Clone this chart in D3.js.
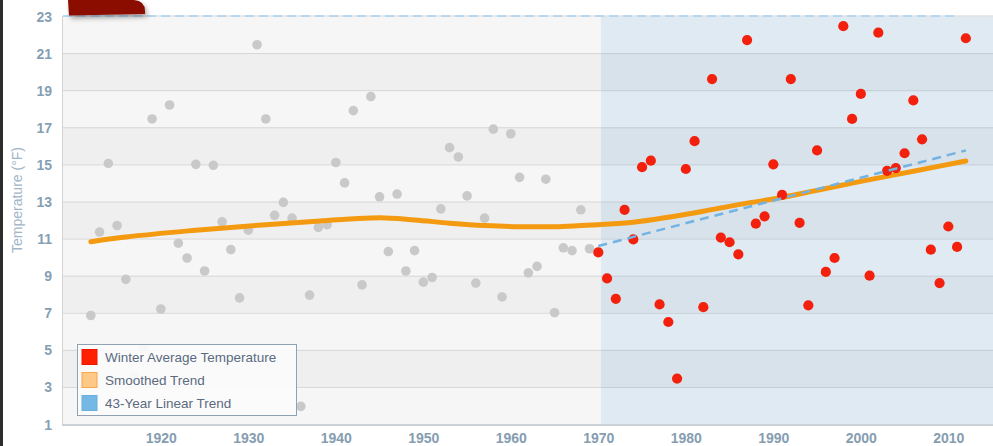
<!DOCTYPE html>
<html>
<head>
<meta charset="utf-8">
<script src="https://cdn.jsdelivr.net/npm/d3@7"></script>
<style>
	body { margin:0; background:#fff; }
	svg { display:block; font-family:"Liberation Sans", Arial, sans-serif; }
</style>
</head>
<body>
<svg id="chart" width="993" height="446"></svg>
<script>

// winter averages, grey = before the 43 year window, red = inside it
let earlyYears = d3.range(1912, 1970)
let earlyTemps = [6.85, 11.35, 15.05, 11.7, 8.8, 3.6, 5.05, 17.45, 7.2, 18.2, 10.75, 9.95,
	15.0, 9.25, 14.95, 11.9, 10.4, 7.8, 11.45, 21.45, 17.45, 12.25, 12.95, 12.1,
	1.95, 7.95, 11.6, 11.75, 15.1, 14.0, 17.9, 8.5, 18.65, 13.25, 10.3, 13.4,
	9.25, 10.35, 8.65, 8.9, 12.6, 15.9, 15.4, 13.3, 8.6, 12.1, 16.9, 7.85,
	16.65, 14.3, 9.15, 9.5, 14.2, 7.0, 10.5, 10.35, 12.55, 10.45]
let recentYears = d3.range(1970, 2013)
let recentTemps = [10.25, 8.85, 7.75, 12.55, 10.95, 14.85, 15.2, 7.45, 6.5, 3.45, 14.75, 16.25,
	7.3, 19.6, 11.05, 10.8, 10.15, 21.7, 11.8, 12.2, 15.0, 13.35, 19.6, 11.85,
	7.4, 15.75, 9.2, 9.95, 22.45, 17.45, 18.8, 9.0, 22.1, 14.65, 14.8, 15.6,
	18.45, 16.35, 10.4, 8.6, 11.65, 10.55, 21.8]
let smoothYears = [1912, 1916, 1924, 1932, 1939, 1945, 1949, 1953, 1957, 1961, 1965, 1968,
	1970, 1974, 1978, 1982, 1986, 1990, 1995, 2000, 2006, 2012]
let smoothTemps = [10.83, 11.08, 11.45, 11.75, 11.97, 12.12, 12.0, 11.83, 11.7, 11.64, 11.64, 11.7,
	11.75, 11.88, 12.15, 12.47, 12.83, 13.13, 13.6, 14.08, 14.63, 15.18]
let linearYears = [1970, 2012]
let linearTemps = [10.6, 15.75]
let yTicks = [1, 3, 5, 7, 9, 11, 13, 15, 17, 19, 21, 23]
let xTicks = [1920, 1930, 1940, 1950, 1960, 1970, 1980, 1990, 2000, 2010]
let legendNames = ["Winter Average Temperature", "Smoothed Trend", "43-Year Linear Trend"]

const plotLeft = 63, plotRight = 993, plotTop = 16, plotBottom = 424
const windowStart = 1970.3

let svg = d3.select("#chart")

let x = d3.scaleLinear().domain([1908.82, 1908.82 + (plotRight - plotLeft) / 8.75]).range([plotLeft, plotRight])
let y = d3.scaleLinear().domain([1, 23]).range([plotBottom, plotTop])

// page border on the far left
svg.append("rect").attr("x", 0).attr("y", 0).attr("width", 3).attr("height", 446).attr("fill", "#2d2d2d")

// alternate bands, grey part then blue part
let bands = d3.range(1, 23, 2)
function drawBands(x0, x1, light, dark){
	svg.append("g").selectAll("rect").data(bands).join("rect")
		.attr("x", x0)
		.attr("y", d => y(d + 2))
		.attr("width", x1 - x0)
		.attr("height", d => y(d) - y(d + 2))
		.attr("fill", (d, i) => i % 2 == 0 ? light : dark)
}
drawBands(plotLeft, x(windowStart), "#f6f6f6", "#efefef")
drawBands(x(windowStart), plotRight, "#dfeaf2", "#d7e2eb")

// grid lines
svg.append("g").selectAll("line").data(yTicks.slice(1, -1)).join("line")
	.attr("x1", plotLeft).attr("x2", x(windowStart))
	.attr("y1", d => y(d) + 0.5).attr("y2", d => y(d) + 0.5)
	.attr("stroke", "#d6d6d6")
svg.append("g").selectAll("line").data(yTicks.slice(1, -1)).join("line")
	.attr("x1", x(windowStart)).attr("x2", plotRight)
	.attr("y1", d => y(d) + 0.5).attr("y2", d => y(d) + 0.5)
	.attr("stroke", "#c3ccd4")
svg.append("line")
	.attr("x1", plotLeft - 0.5).attr("x2", plotLeft - 0.5)
	.attr("y1", plotTop).attr("y2", plotBottom)
	.attr("stroke", "#d3d3d3")
svg.append("line")
	.attr("x1", plotLeft - 1).attr("x2", plotRight)
	.attr("y1", plotBottom + 1).attr("y2", plotBottom + 1)
	.attr("stroke", "#ccd1d6").attr("stroke-width", 2)

// top border, grey with a pale dashed line over it
svg.append("line").attr("x1", plotLeft).attr("x2", plotRight)
	.attr("y1", plotTop).attr("y2", plotTop).attr("stroke", "#e2e2e2").attr("stroke-width", 1.5)
svg.append("line").attr("x1", plotLeft).attr("x2", 958)
	.attr("y1", plotTop).attr("y2", plotTop).attr("stroke", "#a9d1ef")
	.attr("stroke-width", 1.5).attr("stroke-dasharray", "9,5")

// header tab poking in at the top
let defs = svg.append("defs")
let shadow = defs.append("filter").attr("id", "tabShadow").attr("x", "-20%").attr("y", "-50%").attr("width", "150%").attr("height", "250%")
shadow.append("feDropShadow").attr("dx", 2).attr("dy", 3).attr("stdDeviation", 2.5).attr("flood-color", "#000").attr("flood-opacity", 0.35)
svg.append("path")
	.attr("d", "M68,0 L134,0 Q145,1 145,11 L145,14 L69,15.5 Z")
	.attr("fill", "#8a0c00")
	.attr("filter", "url(#tabShadow)")

// axes
let yAxis = d3.axisLeft(y).tickValues(yTicks).tickSize(0).tickPadding(0)
let yG = svg.append("g").attr("transform", "translate(" + (plotLeft - 11) + ",0)").call(yAxis)
yG.select(".domain").remove()
yG.selectAll("text")
	.attr("dy", "0.36em")
	.style("font-size", "14px").style("font-weight", "bold").style("fill", "#869fb4")

let xAxis = d3.axisBottom(x).tickValues(xTicks).tickFormat(d3.format("d")).tickSize(0).tickPadding(0)
let xG = svg.append("g").attr("transform", "translate(0," + (plotBottom + 9) + ")").call(xAxis)
xG.select(".domain").remove()
xG.selectAll("text")
	.attr("dy", "0.71em")
	.style("font-size", "14px").style("font-weight", "bold").style("fill", "#869db1")

svg.append("text")
	.attr("transform", "translate(22,200) rotate(-90)")
	.attr("text-anchor", "middle")
	.style("font-size", "14px")
	.style("fill", "#9fb5c8")
	.text("Temperature (°F)")

// points
svg.append("g").selectAll("circle").data(earlyYears).join("circle")
	.attr("cx", d => x(d))
	.attr("cy", (d, i) => y(earlyTemps[i]))
	.attr("r", 4.8)
	.attr("fill", "#c9c9c9")

// smoothed trend
let smoothLine = d3.line().x(d => x(d[0])).y(d => y(d[1])).curve(d3.curveMonotoneX)
svg.append("path")
	.datum(smoothYears.map((yr, i) => [yr, smoothTemps[i]]))
	.attr("d", smoothLine)
	.attr("fill", "none")
	.attr("stroke", "#f39a10")
	.attr("stroke-width", 5)
	.attr("stroke-linecap", "round")

svg.append("g").selectAll("circle").data(recentYears).join("circle")
	.attr("cx", d => x(d))
	.attr("cy", (d, i) => y(recentTemps[i]))
	.attr("r", 5.1)
	.attr("fill", "#f2200c")

// linear trend
svg.append("path")
	.datum(linearYears.map((yr, i) => [yr, linearTemps[i]]))
	.attr("d", d3.line().x(d => x(d[0])).y(d => y(d[1])))
	.attr("fill", "none")
	.attr("stroke", "#72b3e2")
	.attr("stroke-width", 2.5)
	.attr("stroke-dasharray", "9,6")

// legend
let legend = svg.append("g").attr("transform", "translate(77,344)")
legend.append("rect")
	.attr("x", 0.5).attr("y", 0.5).attr("width", 219).attr("height", 71)
	.attr("fill", "#fbfbfb").attr("fill-opacity", 0.92)
	.attr("stroke", "#8ea2b4")
let swatchFill = ["#ff2000", "#ffc887", "#74b8e6"]
let swatchStroke = ["#f01800", "#f7a64a", "#6aaedd"]
let items = legend.selectAll("g").data(legendNames).join("g")
	.attr("transform", (d, i) => "translate(5," + (5.5 + i * 23) + ")")
items.append("rect")
	.attr("width", 15).attr("height", 15)
	.attr("fill", (d, i) => swatchFill[i])
	.attr("stroke", (d, i) => swatchStroke[i])
items.append("text")
	.attr("x", 23).attr("y", 12.5)
	.style("font-size", "13.5px")
	.style("fill", "#5b6a80")
	.text(d => d)

</script>
</body>
</html>
